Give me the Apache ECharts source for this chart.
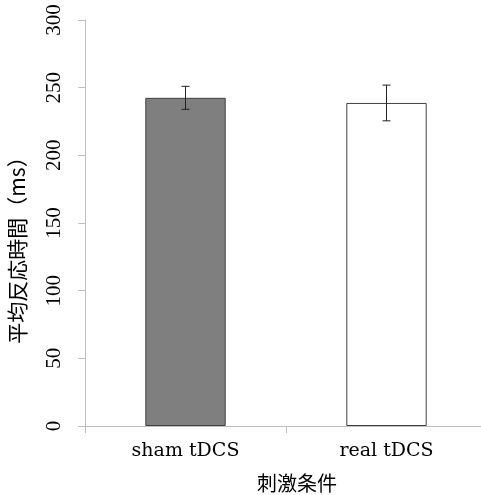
<!DOCTYPE html>
<html>
<head>
<meta charset="utf-8">
<script src="https://cdn.jsdelivr.net/npm/echarts@6/dist/echarts.min.js"></script>
<style>
html,body{margin:0;padding:0;background:#fff;}
#chart{width:481px;height:495px;}
</style>
</head>
<body>
<div id="chart"></div>
<script>
var categories = ['sham tDCS', 'real tDCS'];
var means = [242.5, 238.7];
var errors = [8.5, 13.2];
var yTicks = [0, 50, 100, 150, 200, 250, 300];
var barColors = ['#7f7f7f', '#ffffff'];

var chart = echarts.init(document.getElementById('chart'), null, {renderer: 'canvas'});
var serifNum = '"Liberation Serif", "Times New Roman", serif';
var serifLat = '"DejaVu Serif", "Liberation Serif", serif';
var cjk = '"Noto Sans CJK JP", sans-serif';

var errData = categories.map(function (c, i) {
  return [i, means[i] - errors[i], means[i] + errors[i]];
});

chart.setOption({
  animation: false,
  backgroundColor: '#ffffff',
  grid: {left: 85, right: -6, top: 20, bottom: 69, containLabel: false, outerBoundsMode: 'none'},
  xAxis: {
    type: 'category',
    data: categories,
    name: '刺激条件',
    nameLocation: 'middle',
    nameGap: 47,
    nameTextStyle: {fontFamily: cjk, fontSize: 20, color: '#000', padding: [0, 0, 0, 22]},
    axisLine: {show: true, lineStyle: {color: '#bfbfbf', width: 1}},
    axisTick: {show: true, alignWithLabel: false, length: 7, lineStyle: {color: '#bfbfbf'}},
    axisLabel: {fontFamily: serifLat, fontSize: 19, color: '#000', margin: 16},
    splitLine: {show: false}
  },
  yAxis: {
    type: 'value',
    min: yTicks[0],
    max: yTicks[yTicks.length - 1],
    interval: yTicks[1] - yTicks[0],
    name: '平均反応時間（ms）',
    nameLocation: 'middle',
    nameGap: 57,
    nameRotate: 90,
    nameTextStyle: {fontFamily: cjk + ', ' + serifNum, fontSize: 21, color: '#000', padding: [0, 44, 0, 0]},
    axisLine: {show: true, lineStyle: {color: '#bfbfbf', width: 1}},
    axisTick: {show: true, length: 7, lineStyle: {color: '#bfbfbf'}},
    axisLabel: {fontFamily: serifNum, fontSize: 21, color: '#000', rotate: 90, margin: 20},
    splitLine: {show: false}
  },
  series: [
    {
      type: 'bar',
      barWidth: '40%',
      data: means.map(function (v, i) {
        return {value: v, itemStyle: {color: barColors[i], borderColor: '#404040', borderWidth: 1}};
      })
    },
    {
      type: 'custom',
      data: errData,
      z: 10,
      renderItem: function (params, api) {
        var x = api.value(0);
        var lo = api.coord([x, api.value(1)]);
        var hi = api.coord([x, api.value(2)]);
        var cap = 4;
        var style = {stroke: '#222', lineWidth: 1, fill: null};
        return {
          type: 'group',
          children: [
            {type: 'line', shape: {x1: lo[0], y1: lo[1], x2: hi[0], y2: hi[1]}, style: style},
            {type: 'line', shape: {x1: lo[0] - cap, y1: lo[1], x2: lo[0] + cap, y2: lo[1]}, style: style},
            {type: 'line', shape: {x1: hi[0] - cap, y1: hi[1], x2: hi[0] + cap, y2: hi[1]}, style: style}
          ]
        };
      }
    }
  ]
});
</script>
</body>
</html>
